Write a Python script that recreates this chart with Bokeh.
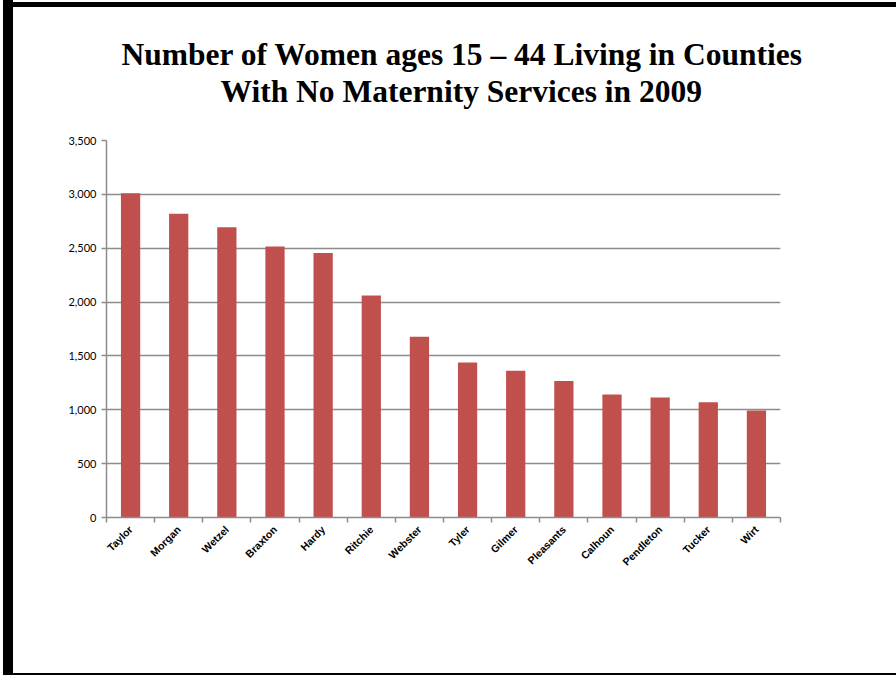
from bokeh.plotting import figure
from bokeh.models import (FixedTicker, NumeralTickFormatter, Range1d, Div, Spacer, Title)
from bokeh.layouts import row, column
from bokeh.embed import file_html
from bokeh.resources import INLINE

counties = ["Taylor", "Morgan", "Wetzel", "Braxton", "Hardy", "Ritchie", "Webster",
            "Tyler", "Gilmer", "Pleasants", "Calhoun", "Pendleton", "Tucker", "Wirt"]
women = [3010, 2820, 2695, 2515, 2455, 2062, 1677, 1440, 1362, 1268, 1143, 1115, 1070, 993]
y_ticks = [0, 500, 1000, 1500, 2000, 2500, 3000, 3500]
title_lines = ["Number of Women ages 15 \u2013 44 Living in Counties",
               "With No Maternity Services in 2009"]

n = len(counties)
xpos = [i + 0.5 for i in range(n)]
W = 868

p = figure(width=W, height=666, output_backend="svg", toolbar_location=None,
           x_range=Range1d(0, n), y_range=Range1d(0, 3500),
           min_border_left=93, min_border_right=W - 767, min_border_top=133,
           min_border_bottom=156, x_axis_location="below", y_axis_location="left")
p.outline_line_color = None
p.background_fill_color = "white"
p.border_fill_color = "white"

p.vbar(x=xpos, top=women, width=0.4, fill_color="#C0504D", line_color=None)

p.xgrid.grid_line_color = None
p.ygrid.ticker = FixedTicker(ticks=y_ticks)
p.ygrid.grid_line_color = "#8c8c8c"
p.ygrid.grid_line_width = 1.3

ya = p.yaxis[0]
ya.ticker = FixedTicker(ticks=y_ticks)
ya.formatter = NumeralTickFormatter(format="0,0")
ya.axis_line_color = "#8c8c8c"
ya.axis_line_width = 1.5
ya.major_tick_line_color = "#8c8c8c"
ya.major_tick_line_width = 1.5
ya.major_tick_in = 0
ya.major_tick_out = 5
ya.minor_tick_line_color = None
ya.major_label_text_font = "Lato"
ya.major_label_text_font_size = "11px"
ya.major_label_text_color = "black"
ya.major_label_standoff = 5

xa = p.xaxis[0]
xa.ticker = FixedTicker(ticks=xpos, minor_ticks=list(range(n + 1)))
xa.major_label_overrides = {x: c for x, c in zip(xpos, counties)}
xa.axis_line_color = "#8c8c8c"
xa.axis_line_width = 1.5
xa.major_tick_line_color = None
xa.minor_tick_line_color = "#8c8c8c"
xa.minor_tick_line_width = 1.5
xa.minor_tick_in = 0
xa.minor_tick_out = 5
xa.major_label_orientation = 0.785398
xa.major_label_text_font = "Liberation Sans"
xa.major_label_text_font_style = "bold"
xa.major_label_text_font_size = "10.5px"
xa.major_label_text_color = "black"
xa.major_label_standoff = 4

# above panel stacks outward from the frame: a blank gap, then line 2, then line 1
p.add_layout(Title(text=" ", align="left", standoff=28, text_line_height=1.0,
                   text_font_size="2px", text_color="white"), "above")
p.add_layout(Title(text=title_lines[1], align="left", offset=114, standoff=0,
                   text_line_height=1.07,
                   text_font="Liberation Serif", text_font_style="bold",
                   text_font_size="31.5px", text_color="black"), "above")
p.add_layout(Title(text=title_lines[0], align="left", offset=15, standoff=0,
                   text_line_height=0.95,
                   text_font="Liberation Serif", text_font_style="bold",
                   text_font_size="31.5px", text_color="black"), "above")


def bar(w, h, color="black"):
    return Div(width=w, height=h, styles={"background-color": color}, margin=0)


RW = 896 - 13 - W
layout = row(
    Spacer(width=3, height=675, margin=0),
    bar(10, 675),
    column(Spacer(width=W, height=2, margin=0), bar(W, 5), p, bar(W, 2),
           spacing=0, margin=0),
    column(Spacer(width=RW, height=2, margin=0), bar(RW, 5),
           Spacer(width=RW, height=666, margin=0), bar(RW, 2),
           spacing=0, margin=0),
    spacing=0, margin=0,
)

open("out.html", "w").write(file_html(layout, INLINE))
